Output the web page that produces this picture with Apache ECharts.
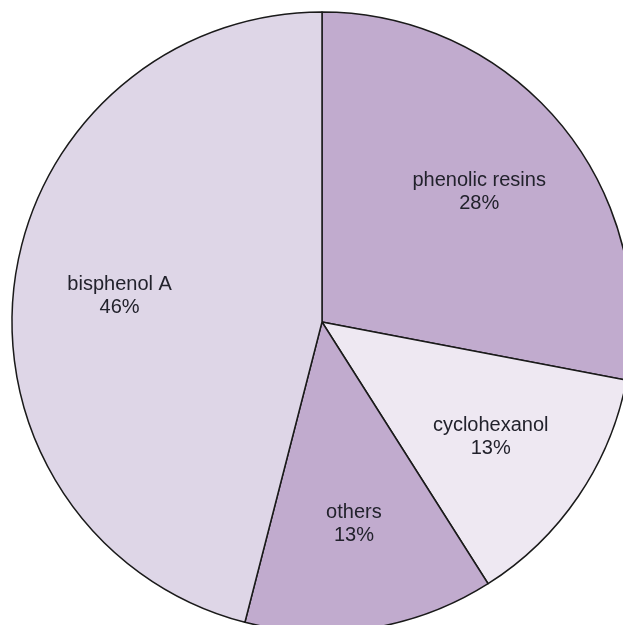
<!DOCTYPE html>
<html><head><meta charset="utf-8">
<script src="https://cdn.jsdelivr.net/npm/echarts@6/dist/echarts.min.js"></script>
<style>html,body{margin:0;padding:0;background:#fff}#c{width:623px;height:625px}</style>
</head><body><div id="c"></div>
<script>
const categories = ['phenolic resins', 'cyclohexanol', 'others', 'bisphenol A'];
const values = [28, 13, 13, 46];
const colors = ['#C1ABCE', '#EEE8F2', '#C1ABCE', '#DED6E7'];
const data = categories.map((n, i) => ({ name: n, value: values[i], itemStyle: { color: colors[i] } }));
const chart = echarts.init(document.getElementById('c'));
chart.setOption({
  animation: false,
  series: [
    {
      type: 'pie', center: [322, 322], radius: [0, 310], startAngle: 90, clockwise: true,
      data: data, label: { show: false }, labelLine: { show: false },
      itemStyle: { borderColor: '#1a1a1a', borderWidth: 1.5 }, silent: true
    },
    {
      type: 'pie', center: [322, 322], radius: [92, 310], startAngle: 90, clockwise: true,
      data: categories.map((n, i) => ({ name: n, value: values[i] })),
      itemStyle: { color: 'rgba(0,0,0,0)', borderWidth: 0 },
      label: {
        show: true, position: 'inside',
        formatter: p => p.name + '\n' + Math.round(p.percent) + '%',
        fontFamily: 'Liberation Sans, Arial, sans-serif', fontSize: 20, lineHeight: 23,
        color: '#22222c'
      },
      labelLine: { show: false }, silent: true
    }
  ]
});
</script></body></html>
